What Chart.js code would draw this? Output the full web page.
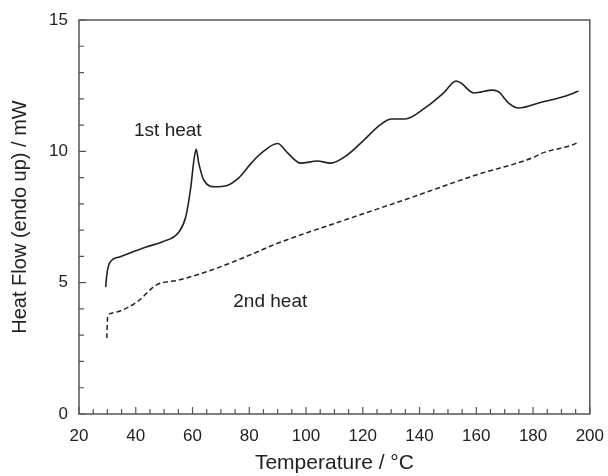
<!DOCTYPE html>
<html>
<head>
<meta charset="utf-8">
<script src="https://cdn.jsdelivr.net/npm/chart.js@4"></script>
<style>
  html, body { margin: 0; padding: 0; background: #fff; }
  #wrap { width: 608px; height: 476px; }
</style>
</head>
<body>
<div id="wrap"><canvas id="dsc" width="608" height="476"></canvas></div>
<script>
// 1st heat (solid)
var temp1 = [29.4, 29.8, 30.8, 34.3, 43.7, 49.3, 55.2, 57.6, 59.4, 60.5, 61.3, 62.2, 64, 68, 71.6, 76.2, 80.7, 84.2, 90,
             93.6, 98.1, 104, 108.6, 114.5, 120.4, 126, 130.2, 134.8, 142.4, 148.4, 152.9, 154.6, 159.2, 165.8, 167.9,
             171.4, 174.9, 183.2, 187.8, 194, 196];
var heat1 = [4.83, 5.3, 5.75, 5.98, 6.36, 6.55, 6.93, 7.5, 8.64, 9.67, 10.08, 9.55, 8.9, 8.65, 8.68, 8.98, 9.55, 9.93, 10.3,
             9.93, 9.55, 9.63, 9.55, 9.86, 10.43, 11.0, 11.23, 11.23, 11.69, 12.22, 12.68, 12.6, 12.22, 12.33, 12.26,
             11.84, 11.65, 11.88, 11.99, 12.2, 12.3];

// 2nd heat (dashed)
var temp2 = [29.8, 30.1, 31.5, 38.8, 41.3, 47.2, 55.2, 66.7, 78.6, 90, 113.5, 136.5, 159.9, 179.7, 183.2, 194, 196];
var heat2 = [2.89, 3.7, 3.84, 4.15, 4.34, 4.91, 5.1, 5.48, 5.98, 6.5, 7.38, 8.22, 9.1, 9.75, 9.93, 10.25, 10.35];

var xTicks = [20, 40, 60, 80, 100, 120, 140, 160, 180, 200];
var yTicks = [0, 5, 10, 15];
var curveNames = ["1st heat", "2nd heat"];

function pts(xs, ys) {
    return xs.map(function(x, i) { return { x: x, y: ys[i] }; });
}

var FONT = "'Liberation Sans', Arial, sans-serif";
var INK = "#222";

// frame + inward ticks + curve labels
var framePlugin = {
    id: "frame",
    afterDraw: function(chart) {
        var c = chart.ctx, a = chart.chartArea;
        var xs = chart.scales.x, ys = chart.scales.y;
        c.save();
        c.strokeStyle = "#555";
        c.lineWidth = 1.5;
        c.strokeRect(a.left, a.top, a.right - a.left, a.bottom - a.top);
        c.lineWidth = 1.2;
        c.beginPath();
        for (var t = 20; t <= 200; t += 5) {
            var px = xs.getPixelForValue(t);
            var len = (t % 20 === 0) ? 7 : 5;
            c.moveTo(px, a.bottom);
            c.lineTo(px, a.bottom - len);
        }
        for (var v = 0; v <= 15; v += 1) {
            var py = ys.getPixelForValue(v);
            var l2 = (v % 5 === 0) ? 7 : 5;
            c.moveTo(a.left, py);
            c.lineTo(a.left + l2, py);
        }
        c.stroke();
        c.fillStyle = INK;
        c.font = "19px " + FONT;
        c.textAlign = "center";
        c.textBaseline = "middle";
        c.fillText(curveNames[0], xs.getPixelForValue(51.3), ys.getPixelForValue(10.8));
        c.fillText(curveNames[1], xs.getPixelForValue(87.4), ys.getPixelForValue(4.26));
        c.restore();
    }
};

new Chart(document.getElementById("dsc"), {
    type: "scatter",
    data: {
        datasets: [
            {
                label: curveNames[0],
                data: pts(temp1, heat1),
                showLine: true,
                borderColor: INK,
                borderWidth: 1.6,
                pointRadius: 0,
                cubicInterpolationMode: "monotone"
            },
            {
                label: curveNames[1],
                data: pts(temp2, heat2),
                showLine: true,
                borderColor: INK,
                borderWidth: 1.5,
                borderDash: [5, 3],
                pointRadius: 0,
                cubicInterpolationMode: "monotone"
            }
        ]
    },
    options: {
        responsive: false,
        animation: false,
        layout: { padding: { left: 0, right: 13, top: 20, bottom: 0 } },
        plugins: { legend: { display: false }, tooltip: { enabled: false } },
        scales: {
            x: {
                type: "linear",
                min: 20, max: 200,
                afterBuildTicks: function(s) { s.ticks = xTicks.map(function(v) { return { value: v }; }); },
                afterFit: function(s) { s.height = 62; },
                grid: { display: false },
                border: { display: false },
                ticks: { color: INK, font: { family: FONT, size: 17 }, padding: 4, maxRotation: 0 },
                title: { display: true, text: "Temperature / °C", color: INK, font: { family: FONT, size: 21 }, padding: { top: 4, bottom: 0 } }
            },
            y: {
                min: 0, max: 15,
                afterBuildTicks: function(s) { s.ticks = yTicks.map(function(v) { return { value: v }; }); },
                afterFit: function(s) { s.width = 79; },
                grid: { display: false },
                border: { display: false },
                ticks: { color: INK, font: { family: FONT, size: 17 }, padding: 3 },
                title: { display: true, text: "Heat Flow (endo up) / mW", color: INK, font: { family: FONT, size: 20 }, padding: { top: 8, bottom: 4 } }
            }
        }
    },
    plugins: [framePlugin]
});
</script>
</body>
</html>
